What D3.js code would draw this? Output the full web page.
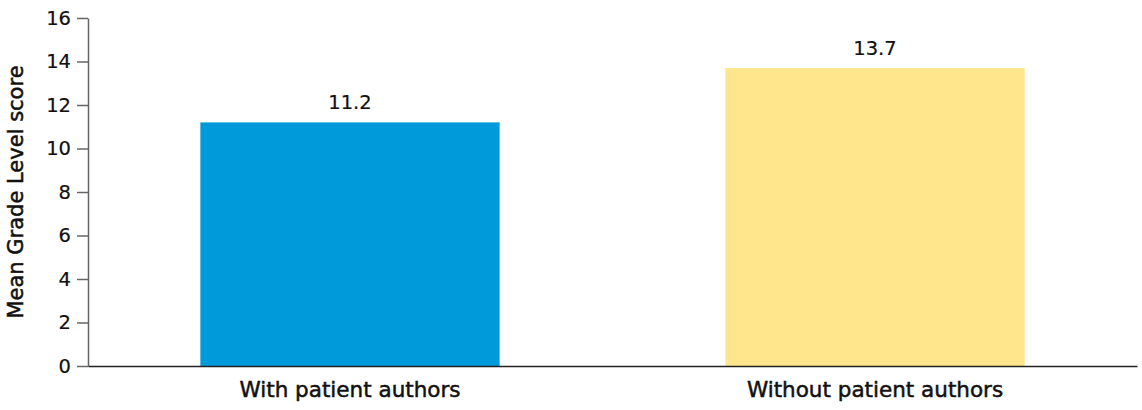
<!DOCTYPE html>
<html>
<head>
<meta charset="utf-8">
<script src="https://cdn.jsdelivr.net/npm/d3@7"></script>
<style>
  html, body { margin: 0; padding: 0; background: #fff; }
  svg { display: block; font-family: "DejaVu Sans", sans-serif; }
</style>
</head>
<body>
<svg id="chart" width="1142" height="410"></svg>
<script>
const categories = ["With patient authors", "Without patient authors"];
const values = [11.2, 13.7];
const barColors = ["#009ADB", "#FFE68C"];
const yTicks = [0, 2, 4, 6, 8, 10, 12, 14, 16];
const yTitle = "Mean Grade Level score";

const svg = d3.select("#chart");
const margin = { left: 88, right: 5, top: 18, bottom: 44 };
const W = 1142, H = 410;

const x = d3.scaleBand()
  .domain(categories)
  .range([margin.left, W - margin.right])
  .paddingInner(0.43)
  .paddingOuter(0.214);

const y = d3.scaleLinear()
  .domain([0, 16])
  .range([H - margin.bottom, margin.top]);

// bars
svg.append("g").selectAll("rect")
  .data(categories)
  .join("rect")
  .attr("x", d => x(d))
  .attr("width", x.bandwidth())
  .attr("y", (d, i) => y(values[i]))
  .attr("height", (d, i) => y(0) - y(values[i]))
  .attr("fill", (d, i) => barColors[i]);

// value labels
svg.append("g").selectAll("text")
  .data(categories)
  .join("text")
  .attr("x", d => x(d) + x.bandwidth() / 2)
  .attr("y", (d, i) => y(values[i]) - 13)
  .attr("text-anchor", "middle")
  .attr("font-size", 19.5)
  .attr("fill", "#111")
  .attr("stroke", "#111").attr("stroke-width", 0.2)
  .text((d, i) => values[i].toFixed(1));

// y axis
const yAxis = svg.append("g")
  .attr("transform", `translate(${margin.left},0)`)
  .call(d3.axisLeft(y).tickValues(yTicks).tickSize(11).tickSizeOuter(0).tickPadding(6));
yAxis.select(".domain").attr("stroke", "#666").attr("stroke-width", 1.5);
yAxis.selectAll(".tick line").attr("stroke", "#666").attr("stroke-width", 1.5);
yAxis.selectAll(".tick text").attr("font-size", 19.5).attr("fill", "#111")
  .attr("stroke", "#111").attr("stroke-width", 0.2)
  .attr("font-family", "\"DejaVu Sans\", sans-serif");

// x axis
const xAxis = svg.append("g")
  .attr("transform", `translate(0,${y(0)})`)
  .call(d3.axisBottom(x).tickSize(0).tickSizeOuter(0).tickPadding(16));
xAxis.select(".domain").attr("stroke", "#222").attr("stroke-width", 1.5);
xAxis.selectAll(".tick text").attr("font-size", 21.5).attr("fill", "#111")
  .attr("stroke", "#111").attr("stroke-width", 0.5)
  .attr("font-family", "\"DejaVu Sans\", sans-serif");

// y title
svg.append("text")
  .attr("transform", `translate(23,${(y(0) + y(16)) / 2}) rotate(-90)`)
  .attr("text-anchor", "middle")
  .attr("font-size", 21)
  .attr("fill", "#111")
  .attr("stroke", "#111").attr("stroke-width", 0.5)
  .text(yTitle);
</script>
</body>
</html>
